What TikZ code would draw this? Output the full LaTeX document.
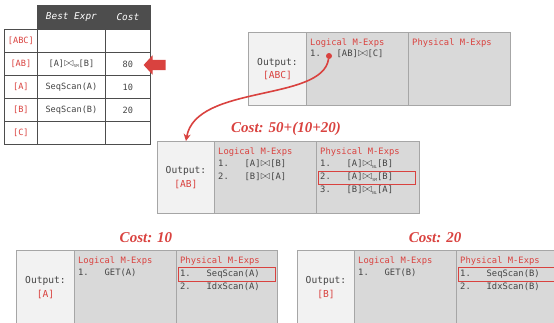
\documentclass[tikz,border=0pt]{standalone}
\usepackage{fontspec}
\setmainfont{Liberation Serif}
\setmonofont{DejaVu Sans Mono}
\usetikzlibrary{arrows.meta,shapes.arrows}

\definecolor{memored}{HTML}{D9423F}
\definecolor{mexpgray}{HTML}{D9D9D9}
\definecolor{outgray}{HTML}{F2F2F2}
\definecolor{linegray}{HTML}{A6A6A6}
\definecolor{headgray}{HTML}{4D4D4D}
\definecolor{txtgray}{HTML}{444444}

\newcommand{\joinop}[1]{{\large\ensuremath{\bowtie}}\raisebox{-1.5pt}{\fontsize{4}{4}\selectfont #1}}

\begin{document}
\begin{tikzpicture}[x=1pt, y=-1pt,
    cell/.style={draw=linegray, line width=0.9pt, anchor=north west, inner sep=0pt},
    outcell/.style={cell, fill=outgray, align=center, font=\fontsize{9.6}{13.5}\selectfont\ttfamily\color{txtgray}},
    mexpcell/.style={cell, fill=mexpgray},
    mexp/.style={anchor=west, inner sep=0pt, text height=6.5pt, text depth=1.5pt,
      font=\fontsize{8.8}{10}\selectfont\ttfamily, text=txtgray},
    mhead/.style={mexp, text=memored},
    costlbl/.style={font=\fontsize{15}{15}\selectfont\bfseries\itshape, text=memored},
    pick/.style={draw=memored, line width=1pt, anchor=north west, inner sep=0pt},
    tcell/.style={draw=headgray, line width=0.8pt, anchor=north west, inner sep=0pt,
      font=\fontsize{8.6}{10}\selectfont\ttfamily, text=txtgray},
    thead/.style={tcell, fill=headgray, text=white, font=\fontsize{9.4}{10}\selectfont\ttfamily\itshape},
    tlbl/.style={tcell, text=memored}]
    \useasboundingbox (0,0) rectangle (554,322);

    % memo table
    \node[thead, minimum width=68pt, minimum height=23pt] (hexpr) at (37,5) {Best Expr};
    \node[thead, minimum width=45pt, minimum height=23pt] (hcost) at (105,5) {Cost};

    \node[tlbl, minimum width=33pt, minimum height=23pt] (rabc) at (4,29) {[ABC]};
    \node[tcell, minimum width=68pt, minimum height=23pt] (eabc) at (37,29) {};
    \node[tcell, minimum width=45pt, minimum height=23pt] (cabc) at (105,29) {};
    \node[tlbl, minimum width=33pt, minimum height=23pt] (rab) at (4,52) {[AB]};
    \node[tcell, minimum width=68pt, minimum height=23pt] (eab) at (37,52) {[A]\joinop{SM}[B]};
    \node[tcell, minimum width=45pt, minimum height=23pt] (cab) at (105,52) {80};
    \node[tlbl, minimum width=33pt, minimum height=23pt] (ra) at (4,75) {[A]};
    \node[tcell, minimum width=68pt, minimum height=23pt] (ea) at (37,75) {SeqScan(A)};
    \node[tcell, minimum width=45pt, minimum height=23pt] (ca) at (105,75) {10};
    \node[tlbl, minimum width=33pt, minimum height=23pt] (rb) at (4,98) {[B]};
    \node[tcell, minimum width=68pt, minimum height=23pt] (eb) at (37,98) {SeqScan(B)};
    \node[tcell, minimum width=45pt, minimum height=23pt] (cb) at (105,98) {20};
    \node[tlbl, minimum width=33pt, minimum height=23pt] (rc) at (4,121) {[C]};
    \node[tcell, minimum width=68pt, minimum height=23pt] (ec) at (37,121) {};
    \node[tcell, minimum width=45pt, minimum height=23pt] (cc) at (105,121) {};

    \node[single arrow, fill=memored, inner sep=0pt, text height=10pt, text depth=0pt,
      minimum height=22pt, single arrow head extend=4.5pt, single arrow tip angle=95,
      shape border rotate=180] (ptr) at (157,65) {};

    % group [ABC]
    \node[outcell, minimum width=58pt, minimum height=73pt] (abcout) at (248,32) {Output:\\\textcolor{memored}{[ABC]}};
    \node[mexpcell, minimum width=102pt, minimum height=73pt] (abclog) at (306,32) {};
    \node[mexpcell, minimum width=102pt, minimum height=73pt] (abcphy) at (408,32) {};
    \node[mhead] (abcloghd) at (310,43) {Logical M-Exps};
    \node[mexp] (abclog1) at (310,54) {1.\ \ \ [AB]\joinop{}[C]};
    \node[mhead] (abcphyhd) at (412,43) {Physical M-Exps};

    % group [AB]
    \node[costlbl] (abcost) at (286,129) {Cost: 50+(10+20)};
    \node[outcell, minimum width=57pt, minimum height=72pt] (about) at (157,141) {Output:\\\textcolor{memored}{[AB]}};
    \node[mexpcell, minimum width=102pt, minimum height=72pt] (ablog) at (214,141) {};
    \node[mexpcell, minimum width=103pt, minimum height=72pt] (abphy) at (316,141) {};
    \node[mhead] (abloghd) at (218,152) {Logical M-Exps};
    \node[mexp] (ablog1) at (218,164) {1.\ \ \ [A]\joinop{}[B]};
    \node[mexp] (ablog2) at (218,177) {2.\ \ \ [B]\joinop{}[A]};
    \node[mhead] (abphyhd) at (320,152) {Physical M-Exps};
    \node[mexp] (abphy1) at (320,164) {1.\ \ \ [A]\joinop{NL}[B]};
    \node[mexp] (abphy2) at (320,177) {2.\ \ \ [A]\joinop{SM}[B]};
    \node[mexp] (abphy3) at (320,190) {3.\ \ \ [B]\joinop{NL}[A]};
    \node[pick, minimum width=97pt, minimum height=13pt] (abpick) at (318,171) {};

    % group [A]
    \node[costlbl] (acost) at (146,238) {Cost: 10};
    \node[outcell, minimum width=58pt, minimum height=74pt] (aout) at (16,250) {Output:\\\textcolor{memored}{[A]}};
    \node[mexpcell, minimum width=102pt, minimum height=74pt] (alog) at (74,250) {};
    \node[mexpcell, minimum width=101pt, minimum height=74pt] (aphy) at (176,250) {};
    \node[mhead] (aloghd) at (78,261) {Logical M-Exps};
    \node[mexp] (alog1) at (78,273) {1.\ \ \ GET(A)};
    \node[mhead] (aphyhd) at (180,261) {Physical M-Exps};
    \node[mexp] (aphy1) at (180,274) {1.\ \ \ SeqScan(A)};
    \node[mexp] (aphy2) at (180,287) {2.\ \ \ IdxScan(A)};
    \node[pick, minimum width=97pt, minimum height=14pt] (apick) at (178,267) {};

    % group [B]
    \node[costlbl] (bcost) at (435,238) {Cost: 20};
    \node[outcell, minimum width=57pt, minimum height=74pt] (bout) at (297,250) {Output:\\\textcolor{memored}{[B]}};
    \node[mexpcell, minimum width=102pt, minimum height=74pt] (blog) at (354,250) {};
    \node[mexpcell, minimum width=104pt, minimum height=74pt] (bphy) at (456,250) {};
    \node[mhead] (bloghd) at (358,261) {Logical M-Exps};
    \node[mexp] (blog1) at (358,273) {1.\ \ \ GET(B)};
    \node[mhead] (bphyhd) at (460,261) {Physical M-Exps};
    \node[mexp] (bphy1) at (460,274) {1.\ \ \ SeqScan(B)};
    \node[mexp] (bphy2) at (460,287) {2.\ \ \ IdxScan(B)};
    \node[pick, minimum width=100pt, minimum height=14pt] (bpick) at (458,267) {};

    % [AB] is looked up from the [ABC] expression
    \node[circle, fill=memored, inner sep=0pt, minimum size=6pt] (abref) at (329,56) {};
    \draw[memored, line width=1.6pt, -{Stealth[length=7pt, width=7pt]}]
      (abref) .. controls (322,102) and (196,84) .. (about.north);
  \end{tikzpicture}
\end{document}
